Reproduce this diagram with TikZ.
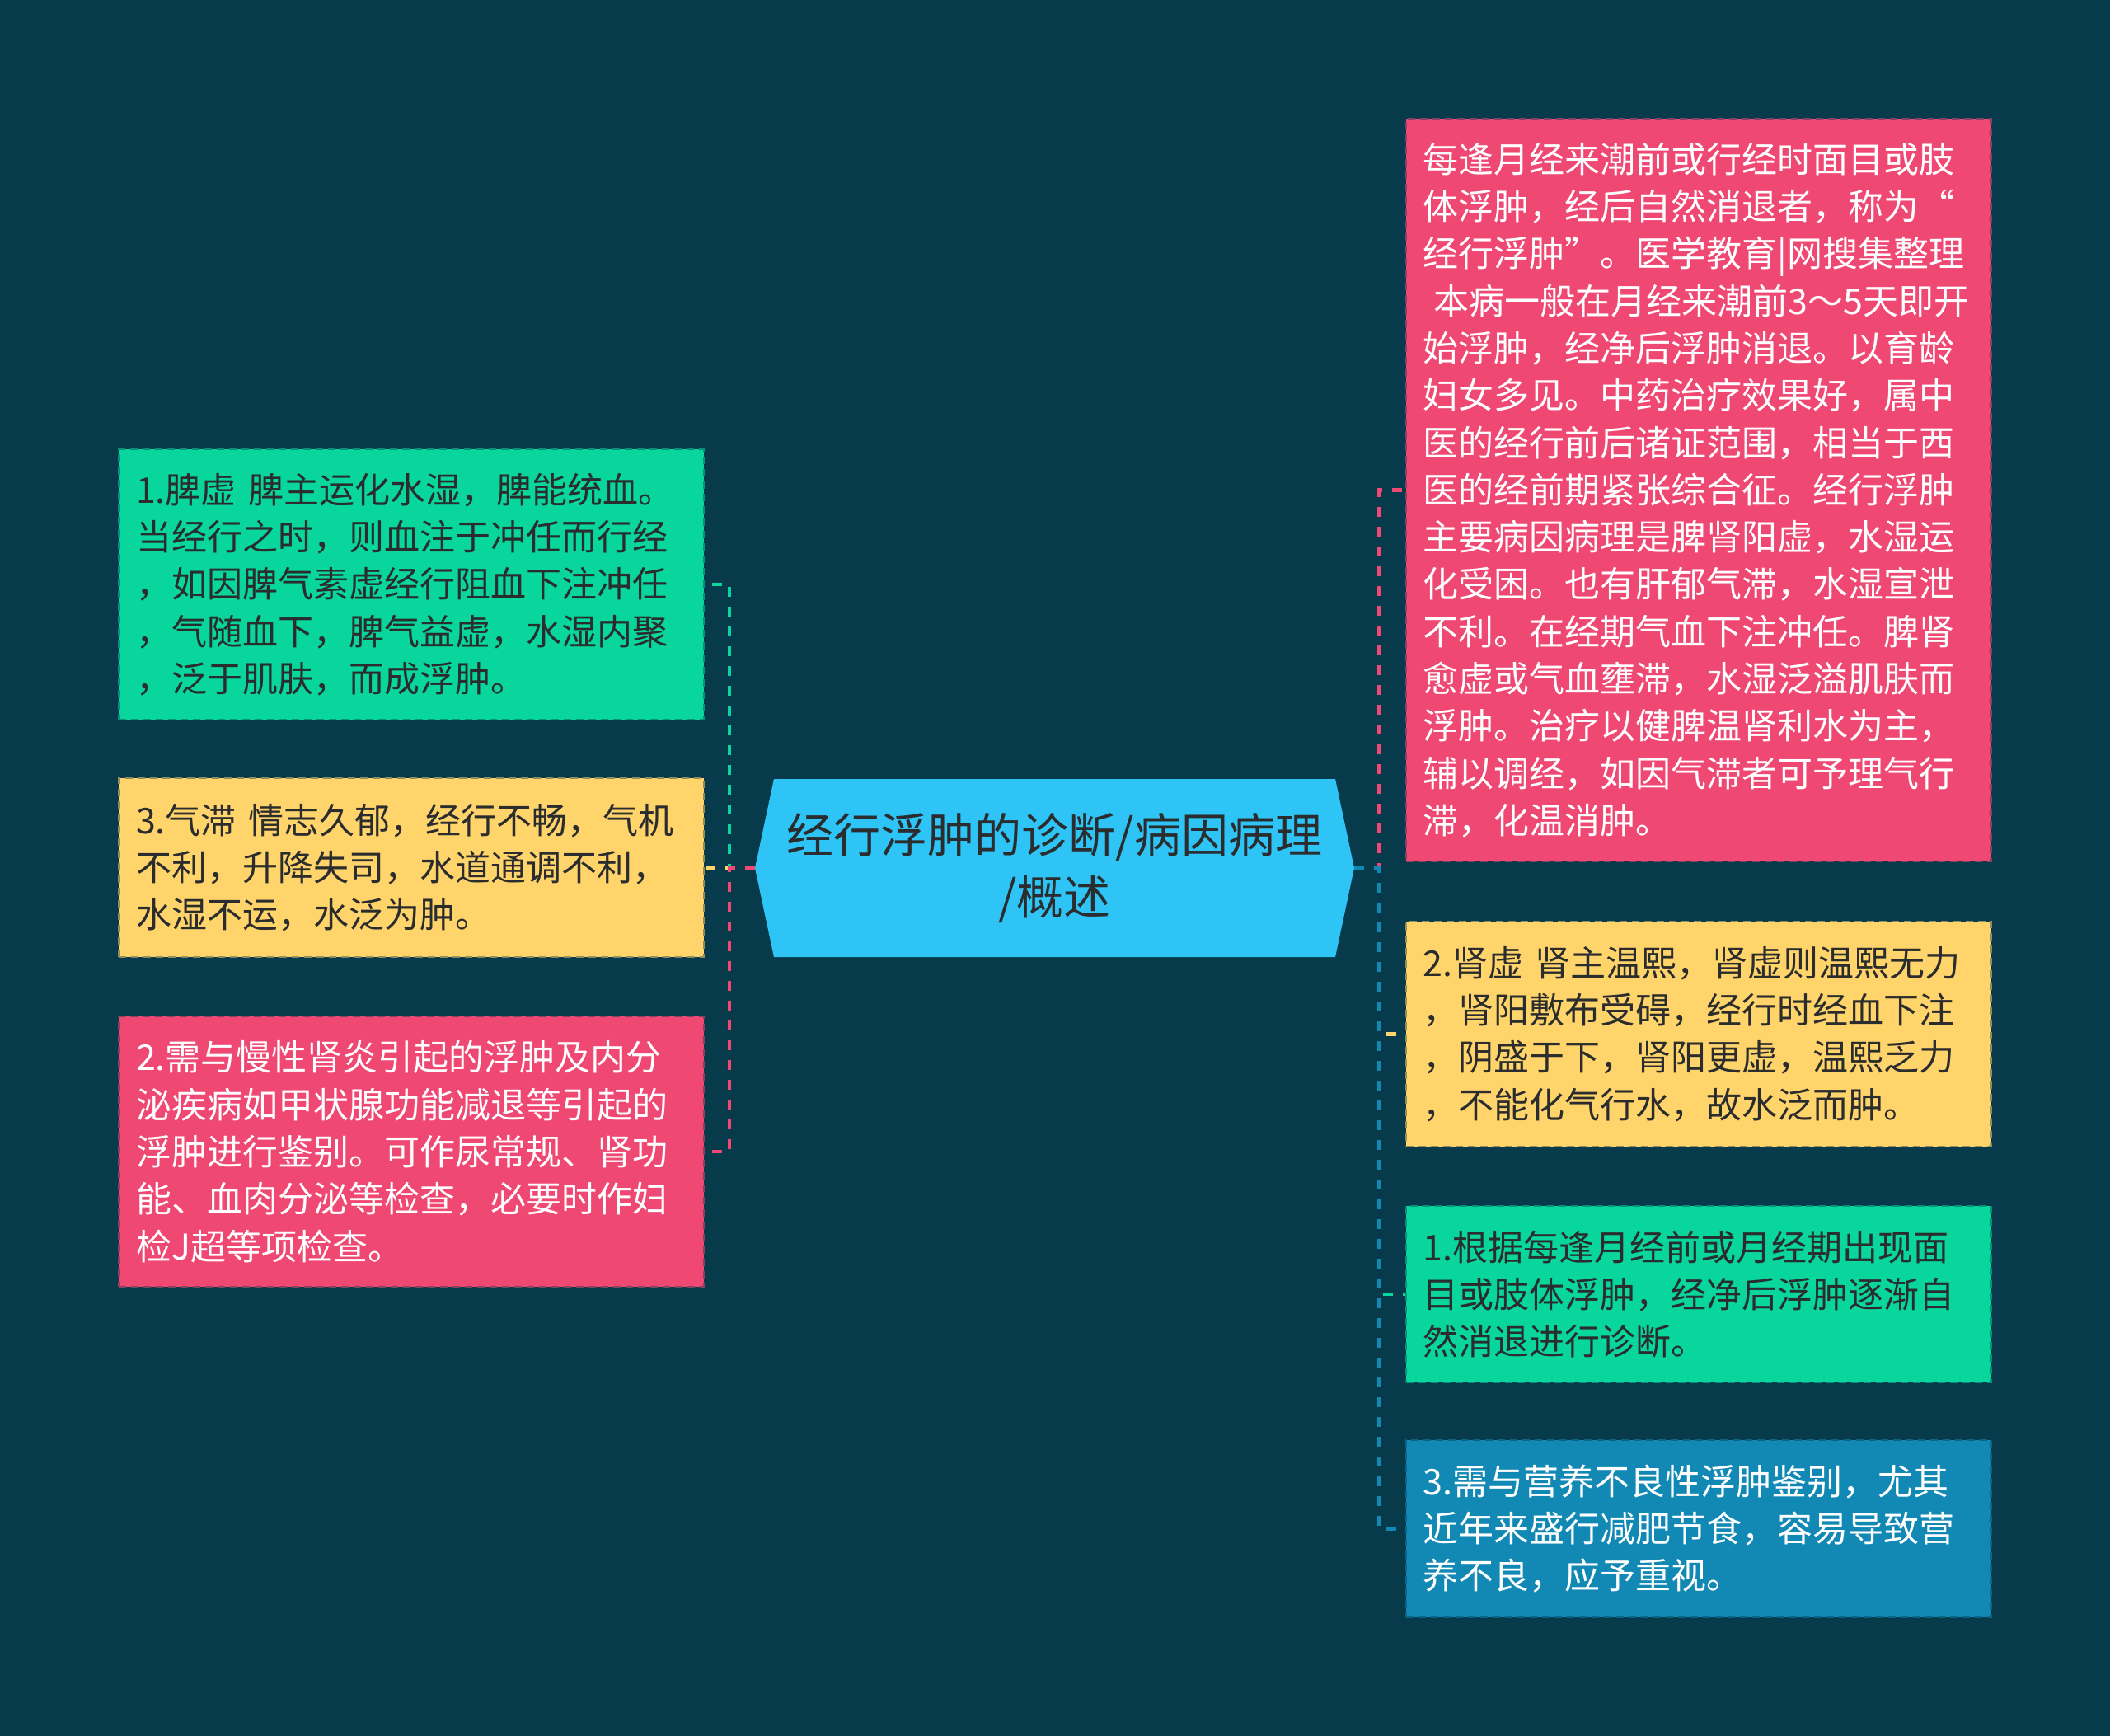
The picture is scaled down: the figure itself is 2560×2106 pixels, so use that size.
\documentclass[tikz,border=0pt]{standalone}
\usepackage{fontspec}
\setmainfont{Noto Sans CJK SC}
\usepackage{tikz}
\usetikzlibrary{shapes.symbols}
\definecolor{bgcol}{HTML}{073A4B}
\definecolor{chex}{HTML}{2EC4F5}
\definecolor{cgreen}{HTML}{08D69C}
\definecolor{cyellow}{HTML}{FFD46B}
\definecolor{cpink}{HTML}{EF4873}
\definecolor{cblue}{HTML}{1289B5}
\definecolor{cdark}{HTML}{2A2C2E}
\tikzset{every picture/.style={x=1pt,y=-1pt},
  leaf/.style={rectangle,fill=#1,draw=#1!55!bgcol,line width=2pt,dash pattern=on 9pt off 6pt,
    minimum width=710pt,text width=668pt,inner xsep=21pt,inner ysep=0pt,align=left,
    text=cdark,font=\fontsize{43}{57.3}\selectfont},
  hexbox/.style={signal,signal to=west and east,signal pointer angle=156,fill=chex,
    minimum width=727pt,minimum height=216pt,inner sep=0pt,align=center,text=cdark,
    font=\fontsize{57}{75}\selectfont},
  link/.style={draw=#1,line width=4.5pt,dash pattern=on 12pt off 12pt}}

\begin{document}
\begin{tikzpicture}

  \fill[bgcol] (0,0) rectangle (2560,2106);

  \node[hexbox] (root) at (1279.5,1053) {经行浮肿的诊断/病因病理\\/概述};

  % left side
  \node[leaf=cgreen,minimum height=328pt] (lgreen) at (499,709)
    {1.脾虚 脾主运化水湿，脾能统血。\\当经行之时，则血注于冲任而行经\\，如因脾气素虚经行阻血下注冲任\\，气随血下，脾气益虚，水湿内聚\\，泛于肌肤，而成浮肿。};
  \node[leaf=cyellow,minimum height=217pt] (lyellow) at (499,1052.5)
    {3.气滞 情志久郁，经行不畅，气机\\不利，升降失司，水道通调不利，\\水湿不运，水泛为肿。};
  \node[leaf=cpink,minimum height=328pt,text=white] (lpink) at (499,1397)
    {2.需与慢性肾炎引起的浮肿及内分\\泌疾病如甲状腺功能减退等引起的\\浮肿进行鉴别。可作尿常规、肾功\\能、血肉分泌等检查，必要时作妇\\检J超等项检查。};

  % right side
  \node[leaf=cpink,minimum height=901pt,text=white] (rpink) at (2060.5,594.5)
    {每逢月经来潮前或行经时面目或肢\\体浮肿，经后自然消退者，称为“\\经行浮肿”。医学教育|网搜集整理\\\hspace*{0.3em}本病一般在月经来潮前3～5天即开\\始浮肿，经净后浮肿消退。以育龄\\妇女多见。中药治疗效果好，属中\\医的经行前后诸证范围，相当于西\\医的经前期紧张综合征。经行浮肿\\主要病因病理是脾肾阳虚，水湿运\\化受困。也有肝郁气滞，水湿宣泄\\不利。在经期气血下注冲任。脾肾\\愈虚或气血壅滞，水湿泛溢肌肤而\\浮肿。治疗以健脾温肾利水为主，\\辅以调经，如因气滞者可予理气行\\滞，化温消肿。};
  \node[leaf=cyellow,minimum height=273pt] (ryellow) at (2060.5,1254.5)
    {2.肾虚 肾主温熙，肾虚则温熙无力\\，肾阳敷布受碍，经行时经血下注\\，阴盛于下，肾阳更虚，温熙乏力\\，不能化气行水，故水泛而肿。};
  \node[leaf=cgreen,minimum height=214pt] (rgreen) at (2060.5,1570)
    {1.根据每逢月经前或月经期出现面\\目或肢体浮肿，经净后浮肿逐渐自\\然消退进行诊断。};
  \node[leaf=cblue,minimum height=215pt,text=white] (rblue) at (2060.5,1854.5)
    {3.需与营养不良性浮肿鉴别，尤其\\近年来盛行减肥节食，容易导致营\\养不良，应予重视。};

  \draw[link=cgreen] (root.west) -- ++(-31,0) |- (lgreen.east);
  \draw[link=cyellow] (root.west) -- ++(-31,0) |- (lyellow.east);
  \draw[link=cpink] (root.west) -- ++(-31,0) |- (lpink.east);

  \draw[link=cpink] (root.east) -- ++(30,0) |- (rpink.west);
  \draw[link=cyellow] (root.east) -- ++(30,0) |- (ryellow.west);
  \draw[link=cgreen] (root.east) -- ++(30,0) |- (rgreen.west);
  \draw[link=cblue] (root.east) -- ++(30,0) |- (rblue.west);

\end{tikzpicture}
\end{document}
